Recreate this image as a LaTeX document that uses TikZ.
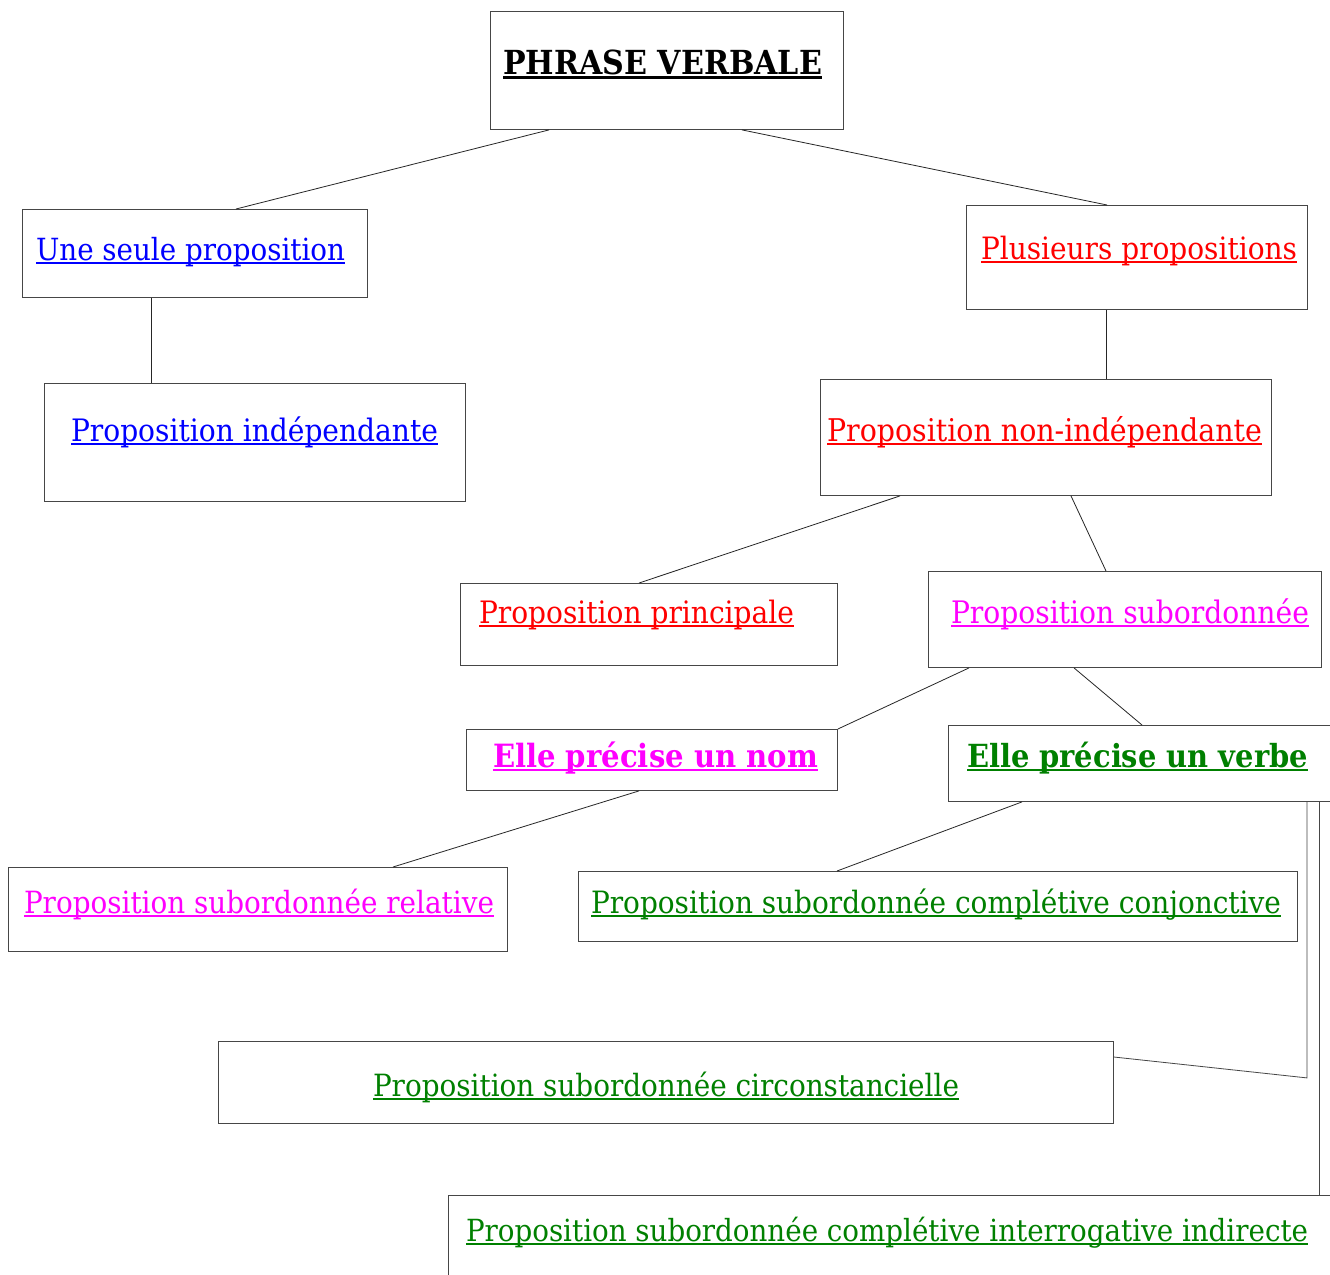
\documentclass[tikz,border=0pt]{standalone}
\usepackage{fontspec}
\setmainfont{DejaVu Serif}
\usepackage{graphicx}
\definecolor{tblue}{RGB}{0,0,255}
\definecolor{tred}{RGB}{255,0,0}
\definecolor{tmag}{RGB}{255,0,255}
\definecolor{tgreen}{RGB}{0,128,0}
\definecolor{boxline}{RGB}{70,70,70}
\newcommand\ulx[1]{\setbox0\hbox{#1}\rlap{\rule[-0.14em]{\wd0}{0.075em}}\box0}
\newcommand\lbl[3]{\scalebox{1}[1.1]{\resizebox{#1}{!}{\fontsize{30pt}{36pt}\selectfont\color{#2}\ulx{#3}}}}
\tikzset{
  box/.style={draw=boxline, line width=0.9pt, rectangle, inner sep=0pt, anchor=north west},
  txt/.style={anchor=base west, inner sep=0pt, outer sep=0pt},
  link/.style={draw=black!85, line width=0.8pt}
}
\begin{document}
\begin{tikzpicture}[x=1pt,y=-1pt]
\fill[white] (0,0) rectangle (1330,1274);
\useasboundingbox (0,0) rectangle (1330,1274);
% boxes
\node[box, minimum width=353pt, minimum height=118pt] (pv) at (490,11) {};
\node[box, minimum width=345pt, minimum height=88pt] (une) at (22,209) {};
\node[box, minimum width=341pt, minimum height=104pt] (plus) at (966,205) {};
\node[box, minimum width=421pt, minimum height=118pt] (indep) at (44,383) {};
\node[box, minimum width=451pt, minimum height=116pt] (nonind) at (820,379) {};
\node[box, minimum width=377pt, minimum height=82pt] (princ) at (460,583) {};
\node[box, minimum width=393pt, minimum height=96pt] (sub) at (928,571) {};
\node[box, minimum width=371pt, minimum height=61pt] (nom) at (466,729) {};
\node[box, minimum width=400pt, minimum height=76pt] (verbe) at (948,725) {};
\node[box, minimum width=499pt, minimum height=84pt] (rel) at (8,867) {};
\node[box, minimum width=719pt, minimum height=70pt] (conj) at (578,871) {};
\node[box, minimum width=895pt, minimum height=82pt] (circ) at (218,1041) {};
\node[box, minimum width=900pt, minimum height=110pt] (inter) at (448,1195) {};
% texts
\node[txt] (pvt) at (503,74) {\lbl{319pt}{black}{\bfseries PHRASE VERBALE}};
\node[txt] (unet) at (36,260) {\lbl{309pt}{tblue}{Une seule proposition}};
\node[txt] (plust) at (981,259) {\lbl{316pt}{tred}{Plusieurs propositions}};
\node[txt] (indept) at (71,441) {\lbl{367pt}{tblue}{Proposition indépendante}};
\node[txt] (nonindt) at (827,441) {\lbl{435pt}{tred}{Proposition non-indépendante}};
\node[txt] (princt) at (479,623) {\lbl{315pt}{tred}{Proposition principale}};
\node[txt] (subt) at (951,623) {\lbl{358pt}{tmag}{Proposition subordonnée}};
\node[txt] (nomt) at (493,767) {\lbl{325pt}{tmag}{\bfseries Elle précise un nom}};
\node[txt] (verbet) at (967,767) {\lbl{341pt}{tgreen}{\bfseries Elle précise un verbe}};
\node[txt] (relt) at (24,913) {\lbl{470pt}{tmag}{Proposition subordonnée relative}};
\node[txt] (conjt) at (591,913) {\lbl{690pt}{tgreen}{Proposition subordonnée complétive conjonctive}};
\node[txt] (circt) at (373,1096) {\lbl{586pt}{tgreen}{Proposition subordonnée circonstancielle}};
\node[txt] (intert) at (466,1241) {\lbl{842pt}{tgreen}{Proposition subordonnée complétive interrogative indirecte}};
% connectors
\draw[link] ([xshift=59pt]pv.south west) -- ([xshift=214pt]une.north west);
\draw[link] ([xshift=252pt]pv.south west) -- ([xshift=141pt]plus.north west);
\draw[link] ([xshift=129pt]une.south west) -- ([xshift=107pt]indep.north west);
\draw[link] ([xshift=140pt]plus.south west) -- ([xshift=286pt]nonind.north west);
\draw[link] ([xshift=80pt]nonind.south west) -- ([xshift=179pt]princ.north west);
\draw[link] ([xshift=251pt]nonind.south west) -- ([xshift=178pt]sub.north west);
\draw[link] ([xshift=41pt]sub.south west) -- (nom.north east);
\draw[link] ([xshift=146pt]sub.south west) -- ([xshift=194pt]verbe.north west);
\draw[link] ([xshift=173pt]nom.south west) -- ([xshift=385pt]rel.north west);
\draw[link] ([xshift=74pt]verbe.south west) -- ([xshift=259pt]conj.north west);
\draw[link, draw=boxline] ([xshift=359pt]verbe.south west) -- ++(0,276) coordinate (bend) -- ([yshift=-16pt]circ.north east);
\draw[link, draw=boxline] ([xshift=371pt]verbe.south west) -- ([xshift=871pt]inter.north west);
\end{tikzpicture}
\end{document}
